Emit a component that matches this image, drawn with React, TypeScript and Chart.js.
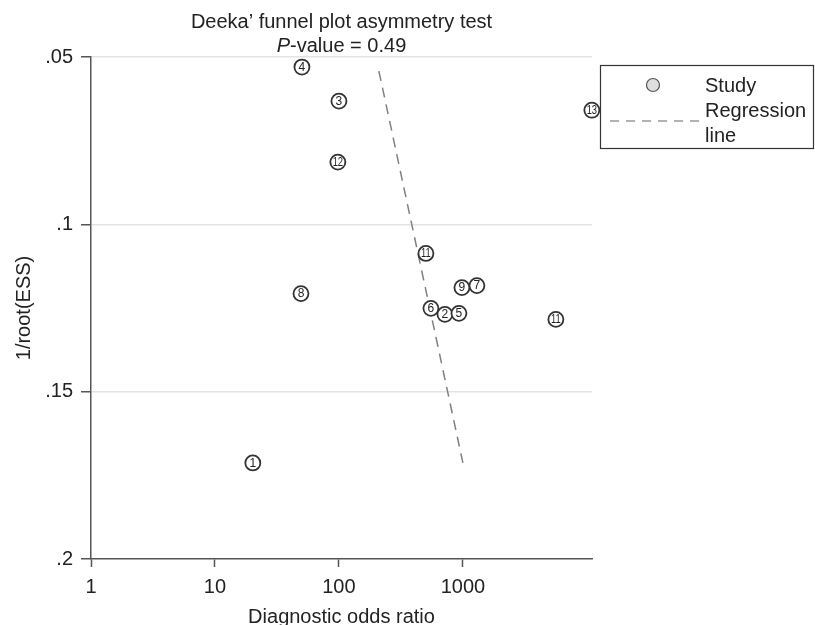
import React, { useEffect, useRef } from 'react';
import { Chart, registerables } from 'chart.js';

Chart.register(...registerables);

// ---- data ----
const studyLabels = ['1', '2', '3', '4', '5', '6', '7', '8', '9', '11', '11', '12', '13'];
const studyDOR = [20.2, 716, 100, 50.3, 929, 552, 1297, 49.4, 982, 503, 5623, 98, 10970];
const studyInvRootESS = [0.1713, 0.1269, 0.0632, 0.053, 0.1266, 0.1251, 0.1183, 0.1207, 0.1189, 0.1087, 0.1284, 0.0814, 0.0659];
const regressionDOR = [210, 1000];
const regressionInvRootESS = [0.0542, 0.1713];
const xTicks = [1, 10, 100, 1000];
const xTickLabels = ['1', '10', '100', '1000'];
const yTicks = [0.05, 0.1, 0.15, 0.2];
const yTickLabels = ['.05', '.1', '.15', '.2'];
const titleLine1 = 'Deeka\u2019 funnel plot asymmetry test';
const titleItalic = 'P';
const titleRest = '-value = 0.49';
const legendStudy = 'Study';
const legendRegression = ['Regression', 'line'];
const xTitle = 'Diagnostic odds ratio';
const yTitle = '1/root(ESS)';

const FONT = '"Liberation Sans", Arial, Helvetica, sans-serif';
const TEXT = '#222';
const AXIS = '#555';

const labelPlugin = {
  id: 'studyLabels',
  afterDatasetsDraw(chart: any) {
    const ctx = chart.ctx;
    const meta = chart.getDatasetMeta(0);
    ctx.save();
    ctx.fillStyle = '#222';
    ctx.textAlign = 'center';
    ctx.textBaseline = 'middle';
    meta.data.forEach((pt: any, i: number) => {
      const lab = studyLabels[i];
      if (lab.length > 1) {
        ctx.save();
        ctx.translate(pt.x, pt.y + 0.5);
        ctx.scale(0.78, 1);
        ctx.font = `12px ${FONT}`;
        ctx.fillText(lab, 0, 0);
        ctx.restore();
      } else {
        ctx.font = `12px ${FONT}`;
        ctx.fillText(lab, pt.x, pt.y + 0.5);
      }
    });
    ctx.restore();
  },
};

const decorPlugin = {
  id: 'decor',
  afterDraw(chart: any) {
    const ctx = chart.ctx;
    const ca = chart.chartArea;
    const cx = (ca.left + ca.right) / 2;
    ctx.save();
    // title
    ctx.fillStyle = TEXT;
    ctx.textBaseline = 'middle';
    ctx.textAlign = 'center';
    ctx.font = `20px ${FONT}`;
    ctx.fillText(titleLine1, cx, 22);
    ctx.font = `italic 20px ${FONT}`;
    const wP = ctx.measureText(titleItalic).width;
    ctx.font = `20px ${FONT}`;
    const wR = ctx.measureText(titleRest).width;
    const start = cx - (wP + wR) / 2;
    ctx.textAlign = 'left';
    ctx.font = `italic 20px ${FONT}`;
    ctx.fillText(titleItalic, start, 46);
    ctx.font = `20px ${FONT}`;
    ctx.fillText(titleRest, start + wP, 46);

    // legend box
    const bx = 600.5, by = 65.5, bw = 213, bh = 83;
    ctx.strokeStyle = '#333';
    ctx.lineWidth = 1.2;
    ctx.strokeRect(bx, by, bw, bh);
    // study marker
    ctx.beginPath();
    ctx.arc(653, 85, 6.5, 0, Math.PI * 2);
    ctx.fillStyle = '#dedede';
    ctx.fill();
    ctx.strokeStyle = '#555';
    ctx.lineWidth = 1.2;
    ctx.stroke();
    // regression key
    ctx.beginPath();
    ctx.setLineDash([9, 7]);
    ctx.strokeStyle = '#999';
    ctx.lineWidth = 1.5;
    ctx.moveTo(610, 121);
    ctx.lineTo(700, 121);
    ctx.stroke();
    ctx.setLineDash([]);
    ctx.fillStyle = TEXT;
    ctx.font = `20px ${FONT}`;
    ctx.textAlign = 'left';
    ctx.textBaseline = 'middle';
    ctx.fillText(legendStudy, 705, 86);
    ctx.fillText(legendRegression[0], 705, 111);
    ctx.fillText(legendRegression[1], 705, 136);
    ctx.restore();
  },
};

export default function App() {
  const ref = useRef<HTMLCanvasElement | null>(null);
  useEffect(() => {
    if (!ref.current) return;
    const chart = new Chart(ref.current, {
      type: 'scatter',
      data: {
        datasets: [
          {
            label: 'Study',
            data: studyDOR.map((x, i) => ({ x, y: studyInvRootESS[i] })),
            pointRadius: 7.5,
            pointHoverRadius: 7.5,
            pointBackgroundColor: '#ffffff',
            pointBorderColor: '#333',
            pointBorderWidth: 1.8,
            clip: false as any,
            order: 0,
          },
          {
            label: 'Regression line',
            data: regressionDOR.map((x, i) => ({ x, y: regressionInvRootESS[i] })),
            showLine: true,
            pointRadius: 0,
            borderColor: '#808080',
            borderWidth: 1.5,
            borderDash: [10, 7],
            order: 1,
          },
        ],
      },
      options: {
        animation: false,
        responsive: false,
        events: [],
        layout: { padding: { top: 57, right: 223, left: 0, bottom: 0 } },
        plugins: {
          legend: { display: false },
          title: { display: false },
          tooltip: { enabled: false },
        },
        scales: {
          x: {
            type: 'logarithmic',
            min: 1,
            max: 11000,
            afterBuildTicks: (scale: any) => {
              scale.ticks = xTicks.map((v) => ({ value: v }));
            },
            afterFit: (scale: any) => {
              scale.height = 66;
            },
            ticks: {
              autoSkip: false,
              maxRotation: 0,
              padding: 8,
              color: TEXT,
              font: { family: FONT, size: 20 },
              callback: (v: any) => {
                const idx = xTicks.indexOf(Number(v));
                return idx >= 0 ? xTickLabels[idx] : '';
              },
            },
            grid: {
              drawOnChartArea: false,
              drawTicks: true,
              tickLength: 8,
              tickColor: AXIS,
              tickWidth: 1.5,
            },
            border: { display: true, color: AXIS, width: 1.5 },
            title: {
              display: true,
              text: xTitle,
              color: TEXT,
              font: { family: FONT, size: 20 },
              padding: { top: 0, bottom: -4 },
            },
          },
          y: {
            type: 'linear',
            reverse: true,
            min: 0.05,
            max: 0.2,
            afterBuildTicks: (scale: any) => {
              scale.ticks = yTicks.map((v) => ({ value: v }));
            },
            afterFit: (scale: any) => {
              scale.width = 91;
            },
            ticks: {
              padding: 8,
              color: TEXT,
              font: { family: FONT, size: 20 },
              callback: (v: any) => {
                const n = Number(v);
                const idx = yTicks.findIndex((t) => Math.abs(t - n) < 1e-9);
                return idx >= 0 ? yTickLabels[idx] : '';
              },
            },
            grid: {
              drawTicks: true,
              tickLength: 10,
              tickColor: AXIS,
              tickWidth: 1.5,
              lineWidth: 1.5,
              color: (c: any) =>
                c.tick && Math.abs(c.tick.value - 0.2) < 1e-9 ? 'rgba(0,0,0,0)' : '#e3e3e3',
            },
            border: { display: true, color: AXIS, width: 1.5 },
            title: {
              display: true,
              text: yTitle,
              color: TEXT,
              font: { family: FONT, size: 20 },
              padding: { top: 12, bottom: 0 },
            },
          },
        },
      } as any,
      plugins: [labelPlugin, decorPlugin],
    });
    return () => chart.destroy();
  }, []);
  return (
    <div style={{ position: 'absolute', left: 0, top: 0, width: 815, height: 625, background: '#fff' }}>
      <canvas ref={ref} width={815} height={625} style={{ display: 'block' }} />
    </div>
  );
}
